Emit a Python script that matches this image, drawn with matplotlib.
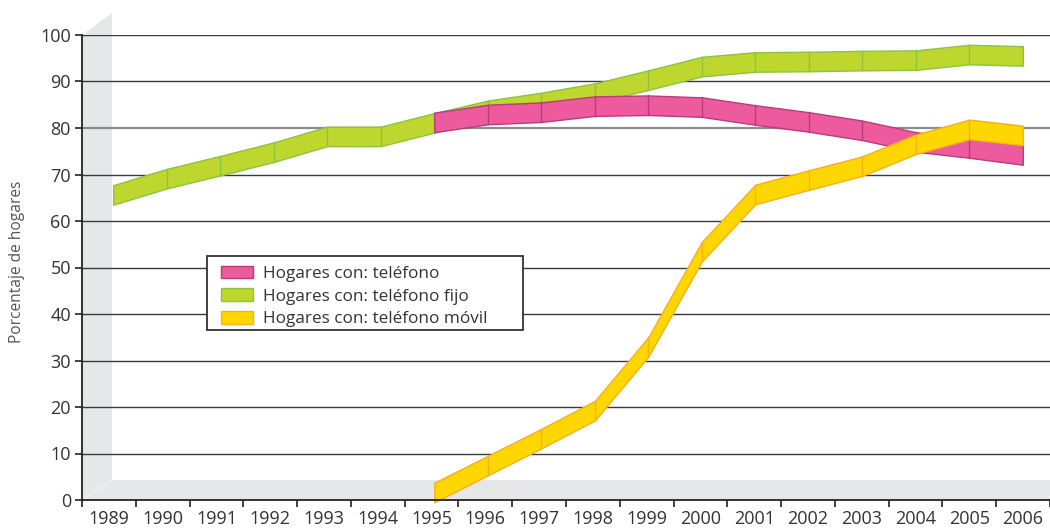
import matplotlib
matplotlib.use("Agg")
import matplotlib.pyplot as plt
from matplotlib.patches import Polygon, Patch, Rectangle
import numpy as np

plt.rcParams['font.family'] = ['Open Sans', 'DejaVu Sans']

years = [str(y) for y in range(1989, 2007)]
fijo = [65.6, 69.1, 71.9, 74.8, 78.2, 78.2, 81.1, 83.8, 85.5, 87.5, 90.3, 93.2,
        94.2, 94.3, 94.5, 94.6, 95.8, 95.5]
telefono_years = years[6:]
telefono = [81.2, 82.9, 83.4, 84.7, 84.9, 84.5, 82.8, 81.3, 79.5, 77.0, 75.7, 74.2]
movil_years = years[6:]
movil = [1.6, 7.4, 13.2, 19.2, 32.9, 53.4, 65.7, 68.8, 71.8, 76.5, 79.7, 78.4]

labels = ["Hogares con: teléfono", "Hogares con: teléfono fijo", "Hogares con: teléfono móvil"]
yticks = list(range(0, 101, 10))

W, H = 1050, 532
fig = plt.figure(figsize=(W / 100, H / 100), dpi=100)
ax = fig.add_axes([82 / W, (H - 500) / H, 968 / W, 465 / H])
ax.set_xlim(0, len(years))
ax.set_ylim(0, 100)

# 3D wall / floor
ppx = len(years) / 968.0      # categories per pixel
ppy = 100 / 465.0             # value per pixel
dx = 30 * ppx
wall = Polygon([(0, 0), (0, 100), (dx, 100 + 22 * ppy), (dx, 20 * ppy),
                (len(years), 20 * ppy), (len(years), 0)],
               closed=True, facecolor='#e6e7e8', edgecolor='none', zorder=0, clip_on=False)
ax.add_patch(wall)
ax.plot([0, dx], [0, 20 * ppy], color='#f2f2f2', lw=0.8, zorder=0.5)

# grid lines
for v in yticks[1:]:
    if v == 80:
        ax.axhline(v, color='#8c8c8c', lw=1.6, zorder=1)
    else:
        ax.axhline(v, color='#3a3a3a', lw=1.0, zorder=1)

def xpos(ylist):
    return np.array([years.index(y) * 0.995 + 0.58 for y in ylist])

half = 2.1

def ribbon(xs, vals, fc, ec, z):
    vals = np.array(vals)
    ax.fill_between(xs, vals - half, vals + half, facecolor=fc, edgecolor=ec,
                    lw=1.0, zorder=z, clip_on=False)
    for x, v in zip(xs[1:-1], vals[1:-1]):
        ax.plot([x, x], [v - half, v + half], color=ec, lw=1.0, zorder=z + 0.1,
                clip_on=False)

c_pink, e_pink = '#EE5A9E', '#B83C7A'
c_green, e_green = '#BDD72E', '#8CC43F'
c_yel, e_yel = '#FFD700', '#F5B01E'

ribbon(xpos(years), fijo, c_green, e_green, 2)
ribbon(xpos(telefono_years), telefono, c_pink, e_pink, 3)
ribbon(xpos(movil_years), movil, c_yel, e_yel, 4)

# axes styling
for s in ['top', 'right']:
    ax.spines[s].set_visible(False)
for s in ['left', 'bottom']:
    ax.spines[s].set_color('#222222')
    ax.spines[s].set_linewidth(1.3)
    ax.spines[s].set_zorder(5)

ax.set_yticks(yticks)
ax.set_yticklabels([str(v) for v in yticks], fontsize=13, color='#333333')
ax.set_xticks(np.arange(0, len(years) + 1))
ax.set_xticklabels([])
ax.set_xticks(np.arange(len(years)) + 0.5, minor=True)
ax.set_xticklabels(years, minor=True, fontsize=13, color='#333333')
ax.tick_params(axis='x', which='major', length=5, width=1.2, color='#222222', direction='out')
ax.tick_params(axis='x', which='minor', length=0, pad=7)
ax.tick_params(axis='y', length=5, width=1.2, color='#222222', pad=3)

fig.text(17 / W, 1 - 262 / H, "Porcentaje de hogares", rotation=90, fontsize=11.2,
         color='#555555', ha='center', va='center')

# legend frame (drawn manually to match the wide box)
frame = Rectangle((207 / W, 1 - 330 / H), (523 - 207) / W, (330 - 256) / H,
                  transform=fig.transFigure, facecolor='white', edgecolor='#333333',
                  lw=1.3, zorder=9)
fig.add_artist(frame)

handles = [Patch(facecolor=c_pink, edgecolor=e_pink, label=labels[0]),
           Patch(facecolor=c_green, edgecolor=e_green, label=labels[1]),
           Patch(facecolor=c_yel, edgecolor=e_yel, label=labels[2])]
leg = fig.legend(handles=handles, loc='upper left',
                 bbox_to_anchor=(213 / W, 1 - 258 / H), fontsize=12.3, frameon=False,
                 borderpad=0.45, labelspacing=0.38, handlelength=1.9,
                 handleheight=0.75, handletextpad=0.6, borderaxespad=0)
for t in leg.get_texts():
    t.set_color('#333333')
leg.set_zorder(10)

fig.savefig('out.png', dpi=100)
